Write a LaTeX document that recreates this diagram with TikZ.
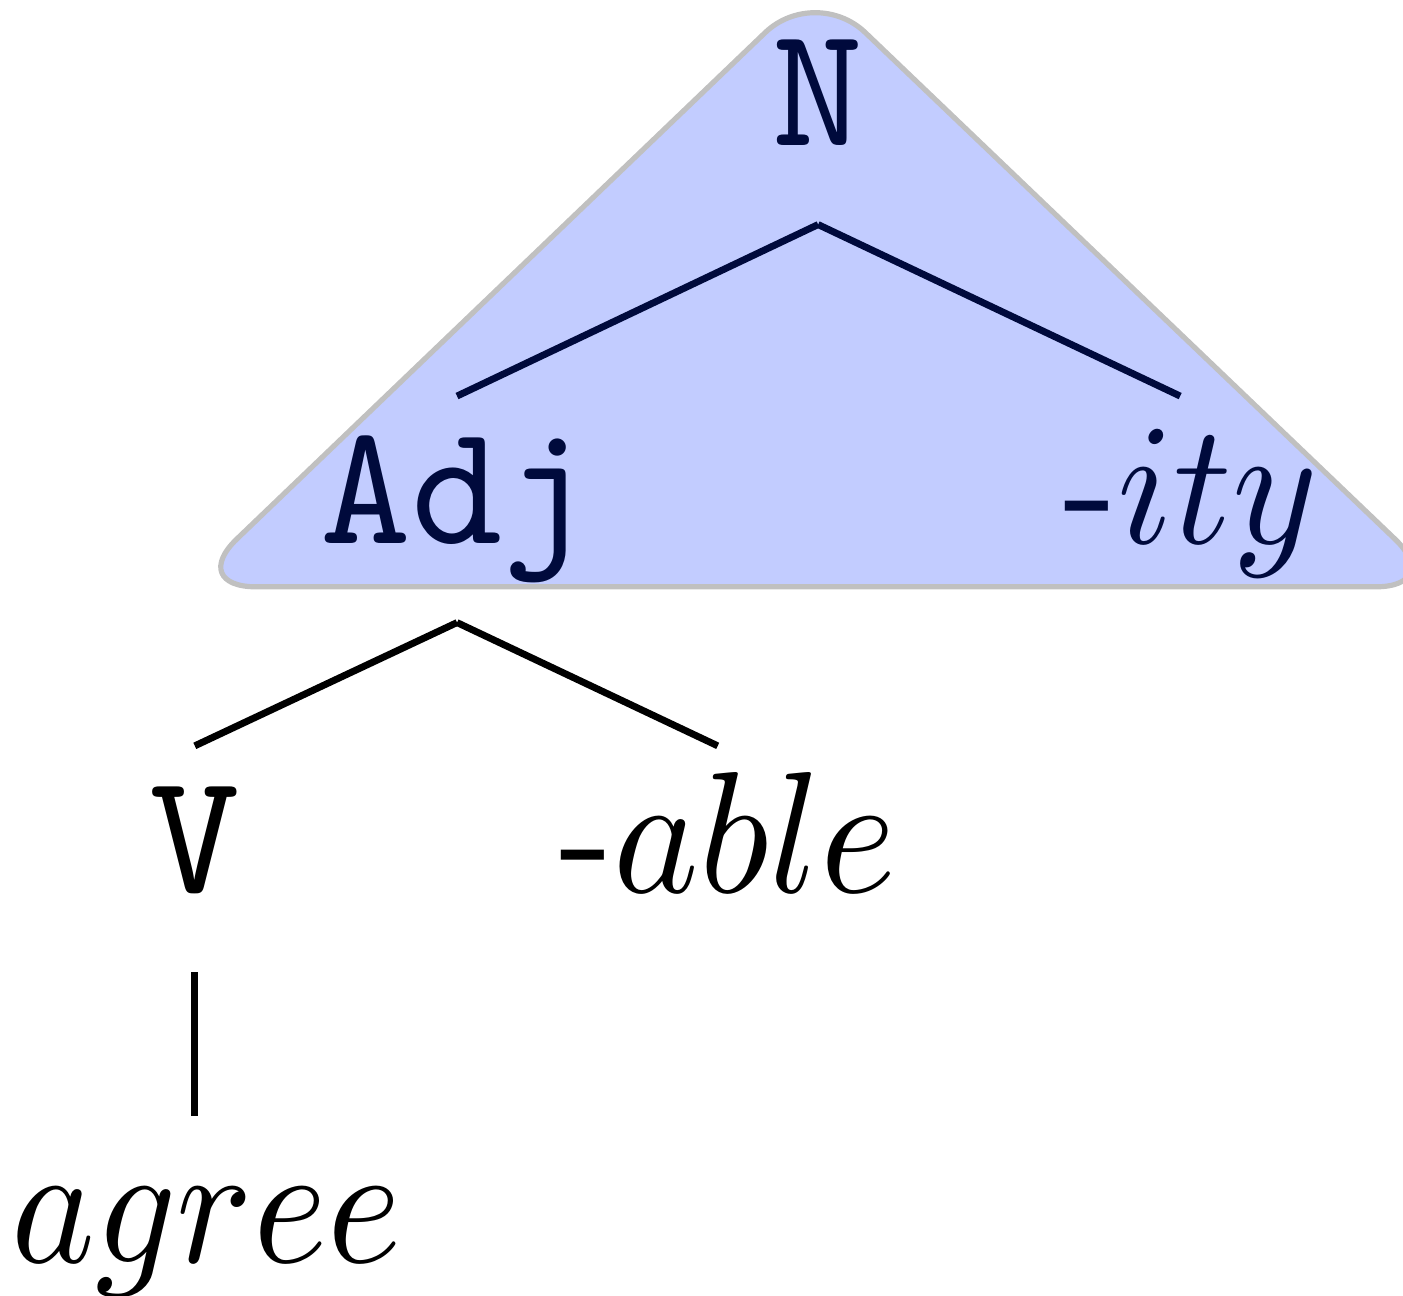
\documentclass[tikz,border=0pt]{standalone}
\usepackage{tikz}
\definecolor{trifill}{RGB}{194,204,255}
\definecolor{triedge}{RGB}{192,192,192}
\definecolor{darknavy}{RGB}{0,10,60}
\newcommand{\affix}[1]{\scalebox{0.94}[1]{#1}}

\begin{document}
\begin{tikzpicture}[
  morph/.style={anchor=base, inner sep=0pt, text height=8.3pt, text depth=4.4pt},
  branch/.style={line width=0.4pt}]
  \useasboundingbox (0,0) rectangle (2.852,2.634);
  \draw[triedge, fill=trifill, line width=0.3pt, rounded corners=4pt]
    (1.657,2.665) -- (0.380,1.441) -- (2.937,1.441) -- cycle;
  \node[morph, darknavy] (n) at (1.663,2.339) {\texttt{N}};
  \node[morph, darknavy] (adj) at (0.929,1.530) {\texttt{Adj}};
  \node[morph, darknavy] (ity) at (2.420,1.530) {\affix{-$ity$}};
  \node[morph] (v) at (0.396,0.819) {\texttt{V}};
  \node[morph] (able) at (1.480,0.819) {\affix{-$able$}};
  \node[morph] (agree) at (0.420,0.067) {\scalebox{0.92}[1]{$agree$}};
  \draw[branch, darknavy] (n.south) -- (adj.north);
  \draw[branch, darknavy] (n.south) -- ([xshift=-0.6pt]ity.north);
  \draw[branch] (adj.south) -- (v.north);
  \draw[branch] (adj.south) -- ([xshift=-0.6pt]able.north);
  \draw[branch] (v.south) -- (v.south |- agree.north);
\end{tikzpicture}
\end{document}
